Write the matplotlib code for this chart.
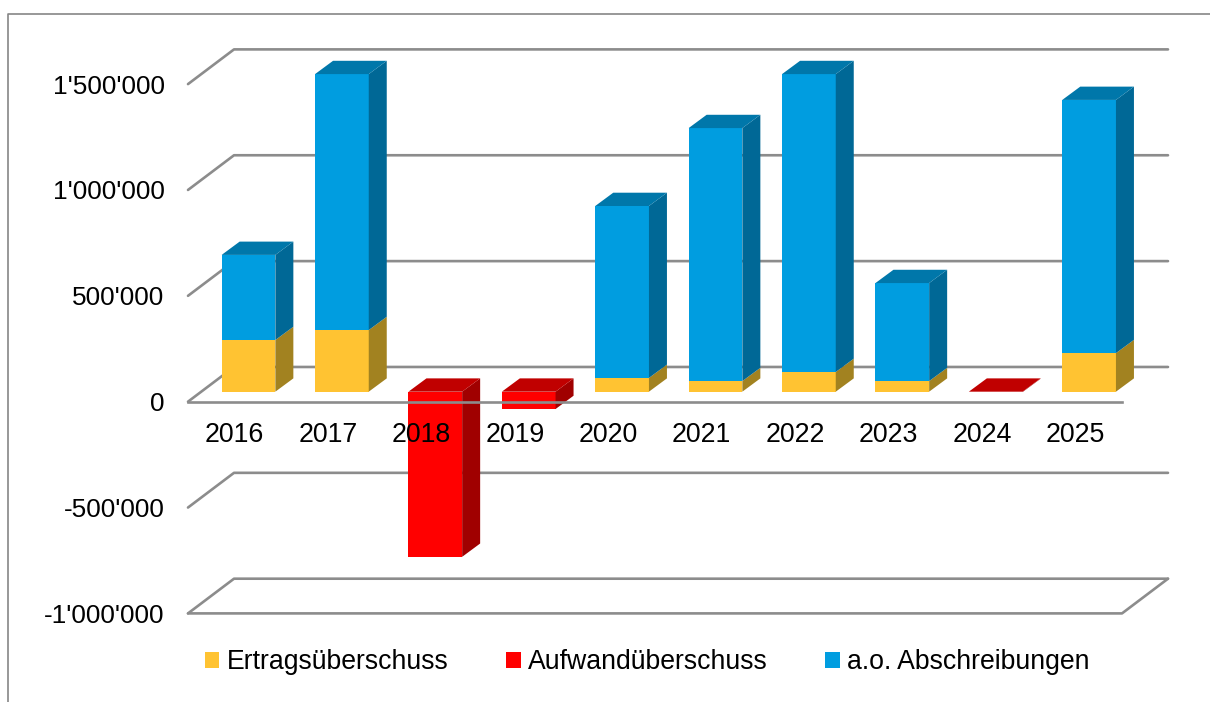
# -*- coding: utf-8 -*-
import matplotlib
matplotlib.use('Agg')
import matplotlib.pyplot as plt
from matplotlib.lines import Line2D
from matplotlib.patches import Patch

years = ['2016', '2017', '2018', '2019', '2020', '2021', '2022', '2023', '2024', '2025']
ertrag = [244000, 291000, 0, 0, 65000, 50000, 93000, 50000, 0, 182000]
aufwand = [0, 0, -780000, -82000, 0, 0, 0, 0, -2000, 0]
abschreibung = [402000, 1209000, 0, 0, 812000, 1195000, 1407000, 463000, 0, 1196000]
yticks = [-1000000, -500000, 0, 500000, 1000000, 1500000]
legend_names = ['Ertragsüberschuss', 'Aufwandüberschuss', 'a.o. Abschreibungen']

W, H = 1210, 702
PX_X = 93.4            # pixel pro Kategorie
PX_Y = 211.7 / 1e6     # pixel pro Franken

# farben: front, seite, deckel
YELLOW = ('#FFC332', '#A28220', '#B8922A')
RED = ('#FF0000', '#A00000', '#C00000')
BLUE = ('#009DE0', '#006896', '#0077AA')
GRAY = '#8C8C8C'

plt.rcParams['font.family'] = ['Liberation Sans', 'DejaVu Sans']

fig = plt.figure(figsize=(W / 100, H / 100), dpi=100)
ax = fig.add_axes([188 / W, 1 - 613.4 / H, 934 / W, 529.3 / H])
ax.set_xlim(-0.5, 9.5)
ax.set_ylim(-1000000, 1500000)

# tiefe der 3D-darstellung, in datenwerten
back_x, back_y = 46 / PX_X, 34.7 / PX_Y
off_x, off_y = 13.8 / PX_X, 10 / PX_Y
dep_x, dep_y = 18 / PX_X, 13.3 / PX_Y
width = 53.7 / PX_X


def grid(xs, ys):
    ax.plot(xs, ys, color=GRAY, lw=1.9, zorder=1, clip_on=False, solid_capstyle='round')


# raster: hinten + linke schraege
for v in yticks:
    grid([-0.5, -0.5 + back_x, 9.5 + back_x], [v, v + back_y, v + back_y])
grid([-0.5, 9.5, 9.5 + back_x], [-1000000, -1000000, -1000000 + back_y])


def box(i, bottom, height, cols, top=False):
    x0 = i + off_x - width / 2
    x1 = x0 + width
    y0 = bottom + off_y
    y1 = y0 + height
    if height < 0:
        y0, y1 = y1, y0
    ax.bar(i + off_x, y1 - y0, width, bottom=y0, color=cols[0], lw=0, zorder=2, clip_on=False)
    ax.fill([x1, x1 + dep_x, x1 + dep_x, x1], [y0, y0 + dep_y, y1 + dep_y, y1],
            color=cols[1], lw=0, zorder=2, clip_on=False)
    if top:
        ax.fill([x0, x1, x1 + dep_x, x0 + dep_x], [y1, y1, y1 + dep_y, y1 + dep_y],
                color=cols[2], lw=0, zorder=2, clip_on=False)


for i in range(len(years)):
    if ertrag[i] > 0:
        box(i, 0, ertrag[i], YELLOW, top=abschreibung[i] == 0)
    if abschreibung[i] > 0:
        box(i, ertrag[i], abschreibung[i], BLUE, top=True)
    if aufwand[i] < 0:
        box(i, 0, aufwand[i], RED, top=True)

for s in ['left', 'right', 'top']:
    ax.spines[s].set_visible(False)
ax.spines['bottom'].set_position(('data', 0))
ax.spines['bottom'].set_color(GRAY)
ax.spines['bottom'].set_linewidth(1.9)
ax.patch.set_visible(False)
ax.set_axisbelow(False)

ax.set_xticks(range(len(years)), years)
ax.set_yticks(yticks, [f'{v:,.0f}'.replace(',', "'") for v in yticks])
ax.tick_params(axis='x', length=0, pad=14.5, labelsize=19.3, labelcolor='black')
ax.tick_params(axis='y', length=0, pad=16.8, labelsize=18.9, labelcolor='black')

handles = [Patch(color=c, lw=0) for c in (YELLOW[0], RED[0], BLUE[0])]
fig.legend(handles, legend_names, ncol=3, frameon=False, fontsize=19.2,
           loc='center left', bbox_to_anchor=(205 / W, 1 - 662 / H),
           bbox_transform=fig.transFigure, borderpad=0, borderaxespad=0,
           handlelength=0.54, handleheight=0.54, handletextpad=0.27, columnspacing=2.17)

# rahmen
fig.add_artist(Line2D([7.5 / W, 7.5 / W, 1], [0, 1 - 14 / H, 1 - 14 / H], color='#868686', lw=1.2))

fig.savefig('out.png', dpi=100)
